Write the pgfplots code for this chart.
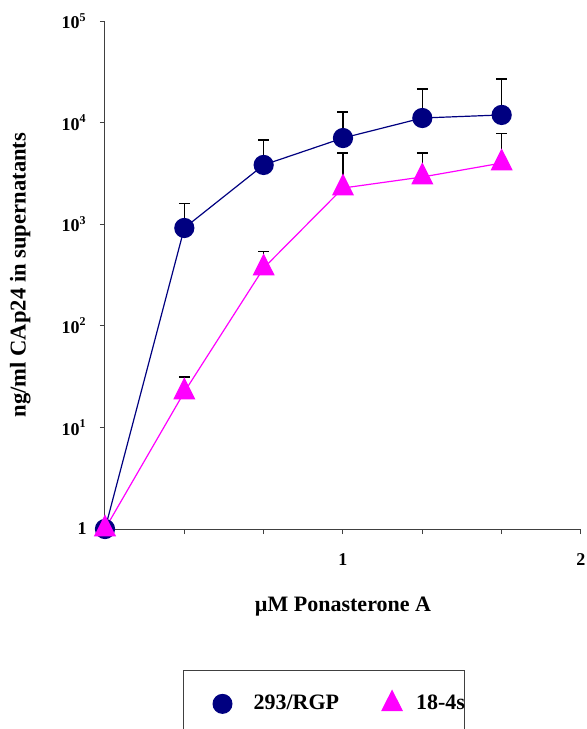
\documentclass[border=0pt]{standalone}
\usepackage{pgfplots}
\pgfplotsset{compat=1.18}
\usepackage{fontspec}
\setmainfont{Liberation Serif}
\definecolor{navyb}{RGB}{0,0,128}
\definecolor{mag}{RGB}{255,0,255}
\pgfplotsset{
 circleg/.style={legend image code/.code={\path[draw=none] (0pt,0pt) -- (35pt,0pt); \draw[##1] plot coordinates {(19.5pt,0pt)};}},
 trileg/.style={legend image code/.code={\path[draw=none] (0pt,0pt) -- (38.5pt,0pt); \draw[##1] plot coordinates {(26.5pt,0pt)};}},
}
\pgfplotstableread{
x y e
0 1 0
0.33333 918 667
0.66667 3830 2920
1 7050 5650
1.33333 11100 10300
1.66667 11900 15000
}\blue
\pgfplotstableread{
x y e
0.33333 918 667
0.66667 3830 2920
1 7050 5650
1.33333 11100 10300
1.66667 11900 15000
}\blueerr
\pgfplotstableread{
x y e
0 1 0
0.33333 22.3 9.1
0.66667 370 165
1 2270 2760
1.33333 2915 2115
1.66667 4000 3750
}\magd
\pgfplotstableread{
x y e
0.33333 22.3 9.1
0.66667 370 165
1 2270 2760
1.33333 2915 2115
1.66667 4000 3750
}\magerr
\begin{document}
\begin{tikzpicture}
\begin{axis}[
 at={(0,0)}, anchor=south west,
 scale only axis, width=238pt, height=254pt,
 xmin=0, xmax=2, ymode=log, ymin=1, ymax=1e5,
 axis lines=left, axis line style={-, line width=0.5pt, black!75},
 tick align=outside, major tick length=2.6pt,
 tick style={line width=0.5pt, black!75},
 minor y tick style={draw=none},
 xtick={0,0.33333,0.66667,1,1.33333,1.66667,2},
 xticklabels={,,,1,,,2},
 ytick={1,10,100,1000,10000,100000},
 yticklabels={1,10\textsuperscript{1},10\textsuperscript{2},10\textsuperscript{3},10\textsuperscript{4},10\textsuperscript{5}},
 tick label style={font=\bfseries\fontsize{9}{10}\selectfont},
 xticklabel style={yshift=-6pt},
 yticklabel style={xshift=-3pt},
 xlabel={µM Ponasterone A},
 ylabel={ng/ml CAp24 in supernatants},
 label style={font=\bfseries\fontsize{11}{13}\selectfont},
 xlabel style={at={(axis description cs:0.5,-0.1535)}, anchor=center},
 ylabel style={at={(axis description cs:-0.178,0.5)}, anchor=center, rotate=0, font=\bfseries\fontsize{11.3}{13}\selectfont},
 clip=false,
 legend columns=2,
 legend cell align=left,
 legend style={at={(axis description cs:0.1639,-0.2776)}, anchor=north west,
   draw=black!75, line width=0.5pt, inner xsep=0pt, inner ysep=10pt,
   nodes={inner sep=0pt}, /tikz/column sep=0pt,
   font=\bfseries\fontsize{11}{13}\selectfont},
]
\addplot[draw=none, mark=none, forget plot,
  error bars/.cd, y dir=plus, y explicit,
  error bar style={draw=black, line width=0.6pt},
  error mark options={rotate=90, mark size=2.75pt, draw=black, line width=0.6pt}]
  table[x=x, y=y, y error=e] {\blueerr};
\addplot[draw=none, mark=none, forget plot,
  error bars/.cd, y dir=plus, y explicit,
  error bar style={draw=black, line width=0.6pt},
  error mark options={rotate=90, mark size=2.75pt, draw=black, line width=0.6pt}]
  table[x=x, y=y, y error=e] {\magerr};
\addplot[navyb, line width=0.6pt, mark=*, mark size=4.75pt, mark options={fill=navyb, draw=navyb}, forget plot]
  table[x=x, y=y] {\blue};
\addplot[mag, line width=0.6pt, mark=triangle*, mark size=5.8pt, mark options={fill=mag, draw=mag, yscale=1.15}, forget plot]
  table[x=x, y=y] {\magd};
\addlegendimage{navyb, mark=*, mark size=4.75pt, mark options={fill=navyb, draw=navyb}, circleg}
\addlegendentry{293/RGP}
\addlegendimage{mag, mark=triangle*, mark size=5.8pt, mark options={fill=mag, draw=mag, yscale=1.15}, trileg}
\addlegendentry{18-4s\hspace{13pt}}
\end{axis}
\pgfresetboundingbox
\path[use as bounding box] (-52.5pt,-100pt) rectangle (241pt,264.5pt);
\end{tikzpicture}
\end{document}
